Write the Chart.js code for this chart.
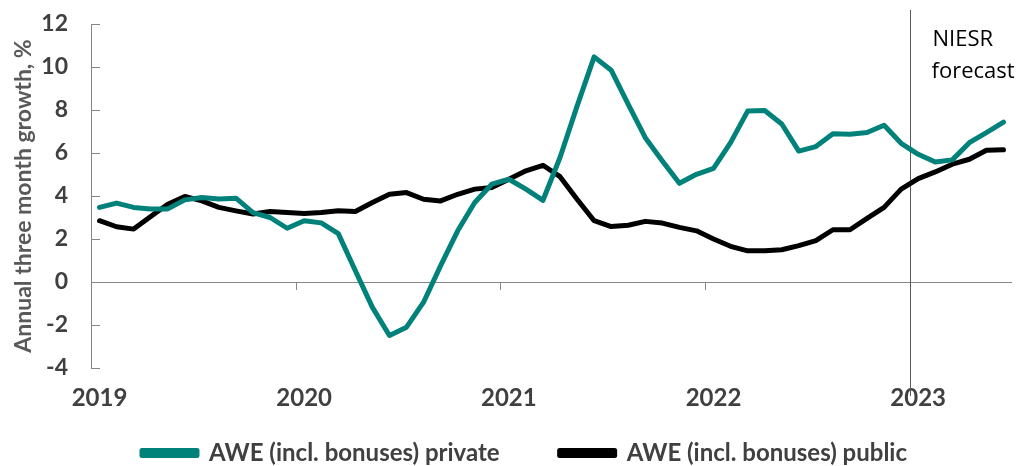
<!DOCTYPE html>
<html>
<head>
<meta charset="utf-8">
<script src="https://cdn.jsdelivr.net/npm/chart.js@4"></script>
<style>
  html, body { margin: 0; padding: 0; background: #fff; }
  #wrap { width: 1031px; height: 466px; }
</style>
</head>
<body>
<div id="wrap"><canvas id="c" width="1031" height="466"></canvas></div>
<script>
const months = [
  'Jan 2019','Feb 2019','Mar 2019','Apr 2019','May 2019','Jun 2019','Jul 2019','Aug 2019','Sep 2019','Oct 2019','Nov 2019','Dec 2019',
  'Jan 2020','Feb 2020','Mar 2020','Apr 2020','May 2020','Jun 2020','Jul 2020','Aug 2020','Sep 2020','Oct 2020','Nov 2020','Dec 2020',
  'Jan 2021','Feb 2021','Mar 2021','Apr 2021','May 2021','Jun 2021','Jul 2021','Aug 2021','Sep 2021','Oct 2021','Nov 2021','Dec 2021',
  'Jan 2022','Feb 2022','Mar 2022','Apr 2022','May 2022','Jun 2022','Jul 2022','Aug 2022','Sep 2022','Oct 2022','Nov 2022','Dec 2022',
  'Jan 2023','Feb 2023','Mar 2023','Apr 2023','May 2023','Jun 2023'
];
const privateAWE = [
  3.47, 3.67, 3.47, 3.40, 3.40, 3.82, 3.93, 3.86, 3.90, 3.23, 3.00, 2.50,
  2.85, 2.75, 2.25, 0.52, -1.18, -2.49, -2.10, -0.94, 0.76, 2.38, 3.70, 4.55,
  4.78, 4.32, 3.80, 5.79, 8.18, 10.47, 9.85, 8.26, 6.71, 5.63, 4.59, 5.01,
  5.28, 6.48, 7.95, 7.98, 7.35, 6.09, 6.30, 6.90, 6.87, 6.95, 7.29, 6.45,
  5.94, 5.58, 5.68, 6.48, 6.95, 7.44
];
const publicAWE = [
  2.85, 2.57, 2.46, 3.05, 3.62, 3.98, 3.77, 3.47, 3.31, 3.16, 3.28, 3.23,
  3.19, 3.23, 3.31, 3.28, 3.70, 4.08, 4.16, 3.85, 3.77, 4.08, 4.32, 4.39,
  4.78, 5.17, 5.43, 4.90, 3.85, 2.85, 2.58, 2.64, 2.82, 2.74, 2.54, 2.38,
  2.00, 1.66, 1.45, 1.45, 1.50, 1.69, 1.92, 2.43, 2.43, 2.96, 3.47, 4.32,
  4.81, 5.12, 5.48, 5.71, 6.13, 6.15
];
const yearLabels = ['2019', '2020', '2021', '2022', '2023'];
const forecastStart = 'Jan 2023';
const forecastText = ['NIESR', 'forecast'];
const seriesNames = ['AWE (incl. bonuses) private', 'AWE (incl. bonuses) public'];

const AXIS = '#868686';
const TXT = '#404040';

const decor = {
  id: 'decor',
  beforeDatasetsDraw(chart) {
    const { ctx, chartArea, scales: { x, y } } = chart;
    const half = (x.getPixelForValue(1) - x.getPixelForValue(0)) / 2;
    const y0 = y.getPixelForValue(0);
    ctx.save();
    ctx.strokeStyle = AXIS;
    ctx.lineWidth = 1;
    // y tick marks (inside)
    y.ticks.forEach(t => {
      const py = Math.round(y.getPixelForValue(t.value)) + 0.5;
      ctx.beginPath();
      ctx.moveTo(chartArea.left, py);
      ctx.lineTo(chartArea.left + 9, py);
      ctx.stroke();
    });
    // year tick marks on zero line
    for (let i = 0; i < months.length; i += 12) {
      const px = Math.round(x.getPixelForValue(i) - half) + 0.5;
      ctx.beginPath();
      ctx.moveTo(px, y0);
      ctx.lineTo(px, y0 + 8);
      ctx.stroke();
    }
    // forecast line
    const fi = months.indexOf(forecastStart);
    const fx = Math.round(x.getPixelForValue(fi) - half) + 0.5;
    ctx.strokeStyle = '#595959';
    ctx.beginPath();
    ctx.moveTo(fx, chartArea.top - 14);
    ctx.lineTo(fx, chartArea.bottom + 28);
    ctx.stroke();
    ctx.fillStyle = '#000';
    ctx.font = '22px "Open Sans"';
    ctx.textAlign = 'left';
    ctx.textBaseline = 'middle';
    ctx.fillText(forecastText[0], fx + 22, chartArea.top + 16);
    ctx.fillText(forecastText[1], fx + 21, chartArea.top + 48);
    ctx.restore();
  }
};

new Chart(document.getElementById('c'), {
  type: 'line',
  data: {
    labels: months,
    datasets: [
      {
        label: seriesNames[0],
        data: privateAWE,
        borderColor: '#00827B',
        backgroundColor: '#00827B',
        borderWidth: 5,
        pointRadius: 0,
        tension: 0,
        borderJoinStyle: 'round',
        borderCapStyle: 'round'
      },
      {
        label: seriesNames[1],
        data: publicAWE,
        borderColor: '#000000',
        backgroundColor: '#000000',
        borderWidth: 5,
        pointRadius: 0,
        tension: 0,
        borderJoinStyle: 'round',
        borderCapStyle: 'round'
      }
    ]
  },
  options: {
    responsive: false,
    animation: false,
    layout: { padding: { top: 24, right: 19, left: 37, bottom: -9 } },
    plugins: {
      tooltip: { enabled: false },
      legend: {
        position: 'bottom',
        labels: {
          boxWidth: 55,
          boxHeight: 5,
          padding: 60,
          color: TXT,
          font: { family: 'Lato', size: 24, weight: 'bold' }
        }
      }
    },
    scales: {
      x: {
        type: 'category',
        offset: true,
        grid: { display: false, offset: true, drawTicks: false },
        border: { display: false },
        ticks: {
          autoSkip: false,
          maxRotation: 0,
          minRotation: 0,
          mirror: true,
          padding: -45,
          color: TXT,
          font: { family: 'Lato', size: 24, weight: 'bold' },
          callback: (v, i) => (i % 12 === 0 ? yearLabels[i / 12] : '')
        },
        afterFit(scale) { scale.height = 13; }
      },
      y: {
        min: -4,
        max: 12,
        grid: {
          drawTicks: false,
          color: ctx => (ctx.tick && ctx.tick.value === 0 ? AXIS : 'rgba(0,0,0,0)'),
          lineWidth: 1
        },
        border: { display: true, color: AXIS, width: 1 },
        ticks: {
          stepSize: 2,
          padding: 23,
          color: TXT,
          font: { family: 'Lato', size: 23, weight: 'bold' }
        },
        title: {
          display: true,
          text: 'Annual three month growth, %',
          color: '#595959',
          padding: { top: -27, bottom: 4 },
          font: { family: 'Lato', size: 23, weight: 'bold' }
        },
        afterFit(scale) { scale.width = 54; scale.paddingTop = 0; scale.paddingBottom = 0; }
      }
    }
  },
  plugins: [decor]
});
</script>
</body>
</html>
